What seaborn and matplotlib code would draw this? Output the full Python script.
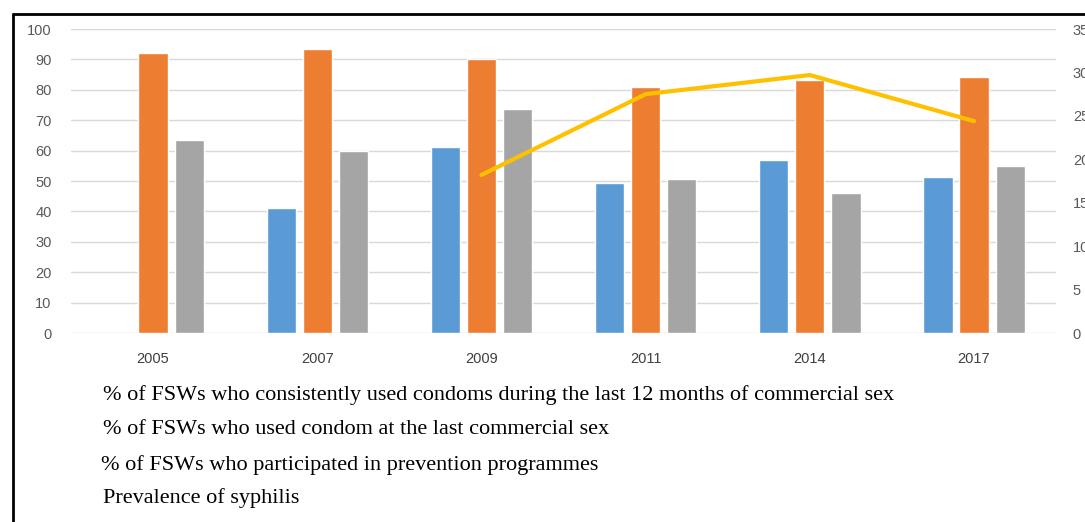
import pandas as pd
import numpy as np
import matplotlib.pyplot as plt
import seaborn as sns
from matplotlib.lines import Line2D

years = ["2005", "2007", "2009", "2011", "2014", "2017"]
consistent_12m = [np.nan, 41.1, 61.2, 49.3, 56.9, 51.3]
last_sex = [92.1, 93.4, 90.1, 80.9, 83.2, 84.2]
prevention = [63.5, 59.9, 73.7, 50.7, 46.1, 54.9]
syphilis_years = ["2009", "2011", "2014", "2017"]
syphilis = [18.2, 27.5, 29.7, 24.4]

labels = [
    "% of FSWs who consistently used condoms during the last 12 months of commercial sex",
    "% of FSWs who used condom at the last commercial sex",
    "% of FSWs who participated in prevention programmes",
    "Prevalence of syphilis",
]
colors = ["#5b9bd5", "#ed7d31", "#a5a5a5"]

bars = pd.DataFrame({
    "year": years * 3,
    "value": consistent_12m + last_sex + prevention,
    "series": [labels[0]] * 6 + [labels[1]] * 6 + [labels[2]] * 6,
})
line = pd.DataFrame({"year": syphilis_years, "value": syphilis})

sns.set_theme(style="white")
plt.rcParams["font.family"] = ["Liberation Sans", "DejaVu Sans"]

fig = plt.figure(figsize=(10.85, 5.22), dpi=100)
ax = fig.add_axes([0.0654, 0.362, 0.908, 0.5824])

sns.barplot(data=bars, x="year", y="value", hue="series", order=years,
            palette=colors, saturation=1, width=0.66, gap=0.19, legend=False, ax=ax)
ax.set_ylim(0, 100)
ax.set_yticks(range(0, 101, 10))
ax.yaxis.grid(True, color="#d9d9d9", linewidth=1)
ax.set_axisbelow(True)
ax.set_xlabel("")
ax.set_ylabel("")
ax.tick_params(axis="y", labelsize=10.5, labelcolor="#595959", pad=14, length=0)
ax.tick_params(axis="x", labelsize=10.5, labelcolor="#404040", pad=14, length=0)
for s in ax.spines.values():
    s.set_visible(False)

ax2 = ax.twinx()
xpos = [years.index(y) for y in syphilis_years]
sns.lineplot(x=xpos, y=line["value"], color="#ffc000", linewidth=3, ax=ax2)
ax2.set_ylim(0, 35)
ax2.set_yticks(range(0, 36, 5))
ax2.tick_params(axis="y", labelsize=10.5, labelcolor="#595959", pad=12, length=0)
ax2.set_ylabel("")
for s in ax2.spines.values():
    s.set_visible(False)
ax.set_xlim(-0.5, 5.5)

# legend text as in the source figure
for i, (lab, y) in enumerate(zip(labels, [395, 430, 465, 498])):
    fig.text(103 / 1085 - (0.0015 if i == 2 else 0), 1 - y / 522, lab,
             family=["Liberation Serif", "DejaVu Serif"], fontsize=16,
             va="center", ha="left", color="black")

# frame around the figure (top and left visible)
fig.add_artist(Line2D([13 / 1085, 13 / 1085], [0, 1 - 14 / 522], color="black", linewidth=2,
                      transform=fig.transFigure))
fig.add_artist(Line2D([13 / 1085, 1], [1 - 14 / 522, 1 - 14 / 522], color="black", linewidth=2,
                      transform=fig.transFigure))

fig.savefig("out.png", dpi=100)
